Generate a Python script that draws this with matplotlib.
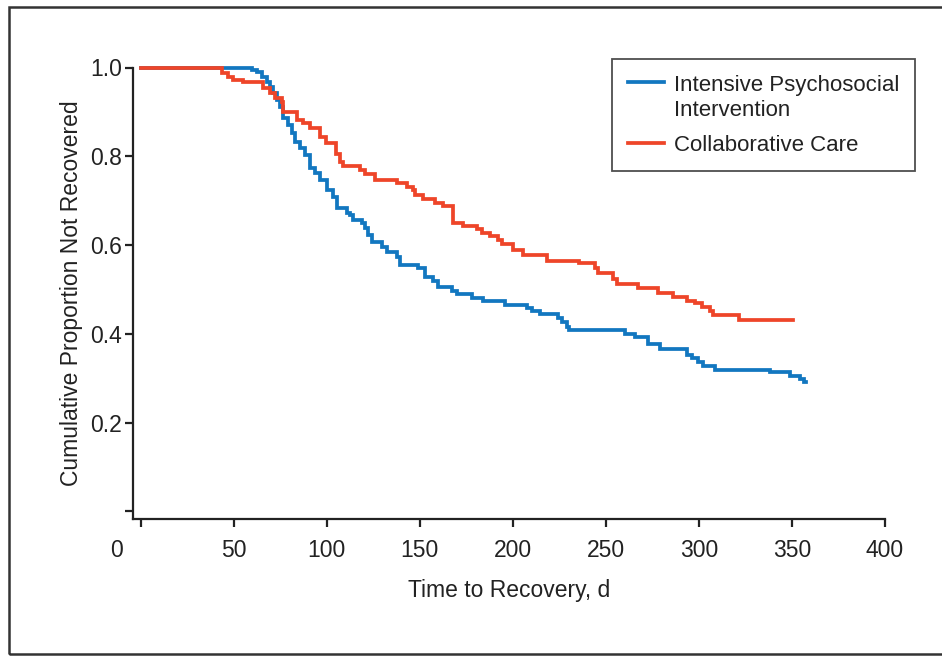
import matplotlib
matplotlib.use("Agg")
import matplotlib.pyplot as plt
from matplotlib.patches import Rectangle
from matplotlib import font_manager
import matplotlib.transforms as mtransforms
import numpy as np

# ---------------- data ----------------
ipi_times = [0, 59.8, 62.5, 65.2, 67.9, 69.5, 71.1, 73.3, 74.9, 76.5, 79.1, 81.3, 82.9,
             85.6, 88.3, 91.0, 93.6, 96.3, 100.1, 103.3, 105.5, 110.8, 112.4, 114.1,
             118.9, 120.5, 122.2, 124.3, 129.6, 132.3, 137.7, 139.3, 149.0, 152.8,
             157.1, 159.8, 167.3, 170.0, 178.0, 183.9, 195.7, 207.6, 210.2, 214.5,
             224.2, 226.4, 229.0, 230.1, 260.2, 265.6, 272.6, 279.0, 293.6, 296.2,
             299.5, 302.1, 308.6, 338.2, 348.9, 354.3, 356.5, 357.5]
ipi_surv = [1.0, 0.994, 0.989, 0.979, 0.968, 0.957, 0.942, 0.927, 0.912, 0.886, 0.870,
            0.852, 0.833, 0.818, 0.803, 0.773, 0.762, 0.747, 0.724, 0.709, 0.683, 0.672,
            0.668, 0.657, 0.649, 0.638, 0.623, 0.608, 0.596, 0.585, 0.574, 0.555, 0.548,
            0.529, 0.518, 0.506, 0.497, 0.490, 0.480, 0.475, 0.466, 0.458, 0.452, 0.445,
            0.435, 0.427, 0.416, 0.409, 0.400, 0.394, 0.377, 0.365, 0.352, 0.345, 0.337,
            0.328, 0.319, 0.313, 0.305, 0.298, 0.292, 0.292]

cc_times = [0, 43.5, 46.9, 49.6, 55.0, 65.7, 69.5, 72.2, 75.9, 76.5, 84.0, 87.2, 91.0,
            96.3, 99.5, 104.9, 107.1, 108.7, 117.8, 120.5, 125.9, 137.7, 143.1, 146.3,
            147.4, 151.7, 158.1, 162.4, 167.8, 173.2, 180.7, 183.4, 187.7, 192.0, 194.1,
            200.0, 205.4, 218.3, 235.5, 244.1, 245.7, 253.8, 255.9, 267.2, 277.9, 286.0,
            293.5, 297.8, 301.6, 305.9, 307.5, 321.5, 350.5]
cc_surv = [1.0, 0.987, 0.979, 0.972, 0.967, 0.953, 0.942, 0.931, 0.922, 0.900, 0.882,
           0.874, 0.863, 0.844, 0.829, 0.805, 0.788, 0.778, 0.769, 0.760, 0.747, 0.739,
           0.730, 0.723, 0.713, 0.704, 0.695, 0.688, 0.650, 0.643, 0.636, 0.628, 0.620,
           0.611, 0.602, 0.589, 0.577, 0.565, 0.559, 0.548, 0.538, 0.523, 0.512, 0.503,
           0.493, 0.484, 0.475, 0.469, 0.460, 0.452, 0.442, 0.431, 0.431]

x_ticks = [0, 50, 100, 150, 200, 250, 300, 350, 400]
x_tick_labels = ["0", "50", "100", "150", "200", "250", "300", "350", "400"]
y_ticks = [0.0, 0.2, 0.4, 0.6, 0.8, 1.0]
y_tick_labels = ["", "0.2", "0.4", "0.6", "0.8", "1.0"]
labels = ["Intensive Psychosocial\nIntervention", "Collaborative Care"]

# ---------------- style ----------------
avail = {f.name for f in font_manager.fontManager.ttflist}
fam = ["Liberation Sans Narrow", "Liberation Sans", "DejaVu Sans"]
fam = [f for f in fam if f in avail] + ["DejaVu Sans"]
plt.rcParams["font.family"] = fam

BLUE = "#1277c0"
RED = "#ee4529"
INK = "#222222"

fig = plt.figure(figsize=(9.42, 6.56), dpi=100)
ax = fig.add_axes([133/942, 1 - 519/656, (885 - 133)/942, (519 - 67.5)/656])

ax.step(ipi_times, ipi_surv, where="post", color=BLUE, lw=2.7, clip_on=False,
        label=labels[0], solid_joinstyle="miter")
ax.step(cc_times, cc_surv, where="post", color=RED, lw=2.7, clip_on=False,
        label=labels[1], solid_joinstyle="miter")

ax.set_xlim(-4.1, 400)
ax.set_ylim(-0.017, 1.0)

ax.set_xticks(x_ticks)
ax.set_xticklabels(x_tick_labels)
ax.set_yticks(y_ticks)
ax.set_yticklabels(y_tick_labels)

for s in ["top", "right"]:
    ax.spines[s].set_visible(False)
for s in ["left", "bottom"]:
    ax.spines[s].set_linewidth(1.6)
    ax.spines[s].set_color(INK)

ax.tick_params(axis="both", direction="out", length=5.5, width=1.6, color=INK,
               labelsize=16.5, labelcolor=INK)
ax.tick_params(axis="x", pad=9)
ax.tick_params(axis="y", pad=2.5)

# shift the "0" label to the left as in the reference
first = ax.get_xticklabels()[0]
first.set_transform(first.get_transform() +
                    mtransforms.ScaledTranslation(-24/100, 0, fig.dpi_scale_trans))

ax.set_xlabel("Time to Recovery, d", fontsize=16.5, color=INK, labelpad=12)
ax.set_ylabel("Cumulative Proportion Not Recovered", fontsize=16.5, color=INK, labelpad=5)

leg = ax.legend(loc="upper left", bbox_to_anchor=((612-133)/752, 1 + (67.5-59)/451.5),
                frameon=True, fancybox=False, fontsize=16, handlelength=1.65,
                handletextpad=0.45, borderpad=0.7, labelspacing=0.6,
                borderaxespad=0)
leg.get_frame().set_edgecolor(INK)
leg.get_frame().set_linewidth(1.3)
for t in leg.get_texts():
    t.set_color(INK)
    t.set_linespacing(1.3)
# put the first handle at the level of the first text line
h0 = leg.legend_handles[0]
h0.set_ydata(np.asarray(h0.get_ydata()) + 12)

# outer frame
fig.patches.append(Rectangle((9/942, 1 - 654/656), 1.1, (654 - 7)/656,
                             transform=fig.transFigure, fill=False,
                             edgecolor="#333333", lw=1.8, clip_on=False))

fig.savefig("out.png", dpi=100)
